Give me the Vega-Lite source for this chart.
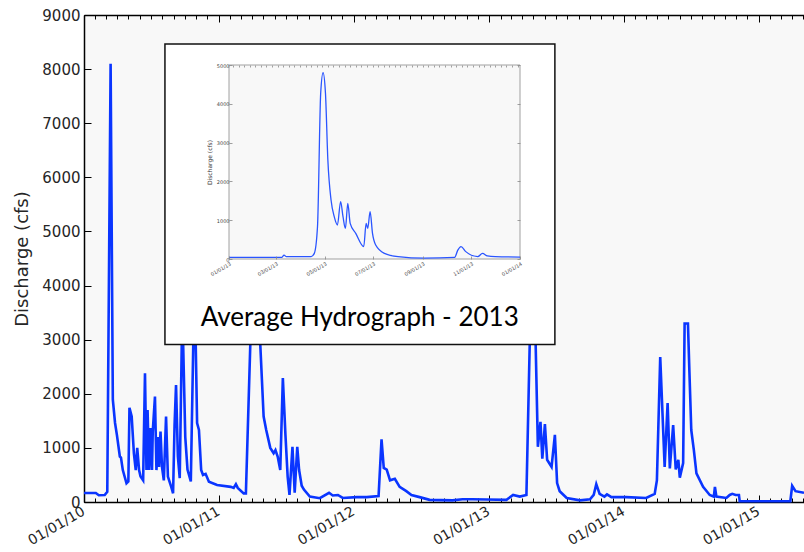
{
  "$schema": "https://vega.github.io/schema/vega-lite/v6.json",
  "autosize": {"type": "none"},
  "padding": {"left": 84, "top": 15, "right": 0, "bottom": 50},
  "width": 720,
  "height": 487,
  "background": "white",
  "config": {"view": {"fill": "#f8f8f8", "stroke": null}},
  "datasets": {
    "main": [
      {"date": "2010/01/01", "q": 165}, {"date": "2010/02/02", "q": 165}, {"date": "2010/02/10", "q": 125}, {"date": "2010/02/26", "q": 130},
      {"date": "2010/03/05", "q": 190}, {"date": "2010/03/14", "q": 8100}, {"date": "2010/03/20", "q": 1890}, {"date": "2010/03/26", "q": 1460},
      {"date": "2010/03/31", "q": 1240}, {"date": "2010/04/08", "q": 840}, {"date": "2010/04/11", "q": 820}, {"date": "2010/04/16", "q": 590},
      {"date": "2010/04/26", "q": 345}, {"date": "2010/05/01", "q": 380}, {"date": "2010/05/04", "q": 1740}, {"date": "2010/05/10", "q": 1580},
      {"date": "2010/05/16", "q": 900}, {"date": "2010/05/21", "q": 590}, {"date": "2010/05/25", "q": 1000}, {"date": "2010/05/30", "q": 590},
      {"date": "2010/06/03", "q": 470}, {"date": "2010/06/10", "q": 400}, {"date": "2010/06/15", "q": 2380}, {"date": "2010/06/19", "q": 590},
      {"date": "2010/06/22", "q": 1700}, {"date": "2010/06/26", "q": 590}, {"date": "2010/06/30", "q": 1365}, {"date": "2010/07/04", "q": 590},
      {"date": "2010/07/06", "q": 1300}, {"date": "2010/07/12", "q": 1950}, {"date": "2010/07/16", "q": 590}, {"date": "2010/07/20", "q": 1200},
      {"date": "2010/07/23", "q": 650}, {"date": "2010/07/27", "q": 1300}, {"date": "2010/07/31", "q": 650}, {"date": "2010/08/05", "q": 400},
      {"date": "2010/08/11", "q": 1580}, {"date": "2010/08/16", "q": 470}, {"date": "2010/08/25", "q": 280}, {"date": "2010/08/30", "q": 160},
      {"date": "2010/09/03", "q": 1420}, {"date": "2010/09/07", "q": 2160}, {"date": "2010/09/12", "q": 840}, {"date": "2010/09/17", "q": 440},
      {"date": "2010/09/24", "q": 3600}, {"date": "2010/10/02", "q": 1200}, {"date": "2010/10/08", "q": 600}, {"date": "2010/10/17", "q": 380},
      {"date": "2010/10/27", "q": 4200}, {"date": "2010/11/03", "q": 1460}, {"date": "2010/11/08", "q": 1330}, {"date": "2010/11/14", "q": 590},
      {"date": "2010/11/19", "q": 500}, {"date": "2010/11/26", "q": 520}, {"date": "2010/12/05", "q": 375}, {"date": "2010/12/27", "q": 315},
      {"date": "2011/02/02", "q": 280}, {"date": "2011/02/10", "q": 260}, {"date": "2011/02/16", "q": 330}, {"date": "2011/02/21", "q": 260},
      {"date": "2011/03/09", "q": 160}, {"date": "2011/03/15", "q": 160}, {"date": "2011/04/05", "q": 5000}, {"date": "2011/04/23", "q": 2900},
      {"date": "2011/05/02", "q": 1580}, {"date": "2011/05/09", "q": 1330}, {"date": "2011/05/20", "q": 1000}, {"date": "2011/05/29", "q": 900},
      {"date": "2011/06/03", "q": 960}, {"date": "2011/06/09", "q": 840}, {"date": "2011/06/16", "q": 590}, {"date": "2011/06/23", "q": 2290},
      {"date": "2011/06/30", "q": 1240}, {"date": "2011/07/06", "q": 470}, {"date": "2011/07/11", "q": 130}, {"date": "2011/07/19", "q": 1020},
      {"date": "2011/07/25", "q": 170}, {"date": "2011/08/01", "q": 1020}, {"date": "2011/08/06", "q": 590}, {"date": "2011/08/13", "q": 300},
      {"date": "2011/08/19", "q": 230}, {"date": "2011/09/04", "q": 100}, {"date": "2011/10/01", "q": 70}, {"date": "2011/10/26", "q": 170},
      {"date": "2011/11/05", "q": 120}, {"date": "2011/11/19", "q": 130}, {"date": "2011/12/02", "q": 75}, {"date": "2012/01/09", "q": 90},
      {"date": "2012/02/05", "q": 90}, {"date": "2012/03/08", "q": 110}, {"date": "2012/03/16", "q": 1160}, {"date": "2012/03/22", "q": 630},
      {"date": "2012/03/30", "q": 600}, {"date": "2012/04/08", "q": 400}, {"date": "2012/04/21", "q": 430}, {"date": "2012/05/04", "q": 280},
      {"date": "2012/05/22", "q": 200}, {"date": "2012/06/05", "q": 130}, {"date": "2012/06/27", "q": 90}, {"date": "2012/07/24", "q": 40},
      {"date": "2012/09/24", "q": 30}, {"date": "2012/10/21", "q": 50}, {"date": "2012/11/17", "q": 50}, {"date": "2012/12/25", "q": 45},
      {"date": "2013/02/17", "q": 40}, {"date": "2013/03/07", "q": 130}, {"date": "2013/03/25", "q": 100}, {"date": "2013/04/12", "q": 130},
      {"date": "2013/04/26", "q": 4500}, {"date": "2013/05/07", "q": 2900}, {"date": "2013/05/13", "q": 1020}, {"date": "2013/05/20", "q": 1480},
      {"date": "2013/05/25", "q": 800}, {"date": "2013/06/01", "q": 1440}, {"date": "2013/06/07", "q": 780}, {"date": "2013/06/19", "q": 650},
      {"date": "2013/06/28", "q": 1240}, {"date": "2013/07/04", "q": 350}, {"date": "2013/07/11", "q": 200}, {"date": "2013/07/30", "q": 75},
      {"date": "2013/09/04", "q": 30}, {"date": "2013/10/01", "q": 50}, {"date": "2013/10/11", "q": 130}, {"date": "2013/10/18", "q": 330},
      {"date": "2013/10/27", "q": 150}, {"date": "2013/11/09", "q": 100}, {"date": "2013/11/16", "q": 140}, {"date": "2013/11/28", "q": 90},
      {"date": "2014/01/07", "q": 90}, {"date": "2014/03/02", "q": 75}, {"date": "2014/03/25", "q": 150}, {"date": "2014/03/31", "q": 400},
      {"date": "2014/04/09", "q": 2680}, {"date": "2014/04/21", "q": 650}, {"date": "2014/04/29", "q": 1830}, {"date": "2014/05/05", "q": 620},
      {"date": "2014/05/14", "q": 1420}, {"date": "2014/05/21", "q": 600}, {"date": "2014/05/28", "q": 780}, {"date": "2014/06/01", "q": 450},
      {"date": "2014/06/10", "q": 720}, {"date": "2014/06/14", "q": 3300}, {"date": "2014/06/23", "q": 3300}, {"date": "2014/06/27", "q": 2400},
      {"date": "2014/07/02", "q": 1330}, {"date": "2014/07/09", "q": 960}, {"date": "2014/07/16", "q": 530}, {"date": "2014/08/03", "q": 280},
      {"date": "2014/08/21", "q": 130}, {"date": "2014/09/01", "q": 100}, {"date": "2014/09/04", "q": 280}, {"date": "2014/09/08", "q": 100},
      {"date": "2014/10/05", "q": 75}, {"date": "2014/10/14", "q": 130}, {"date": "2014/10/21", "q": 150}, {"date": "2014/10/30", "q": 130},
      {"date": "2014/11/08", "q": 130}, {"date": "2014/11/10", "q": 15}, {"date": "2015/03/27", "q": 15}, {"date": "2015/04/01", "q": 300},
      {"date": "2015/04/10", "q": 200}, {"date": "2015/05/03", "q": 170}
    ],
    "inset": [
      {"date": "2013/01/01", "q": 40}, {"date": "2013/03/08", "q": 40}, {"date": "2013/03/11", "q": 100}, {"date": "2013/03/14", "q": 60},
      {"date": "2013/04/14", "q": 60}, {"date": "2013/04/18", "q": 145}, {"date": "2013/04/22", "q": 830}, {"date": "2013/04/26", "q": 4270},
      {"date": "2013/04/29", "q": 4800}, {"date": "2013/05/02", "q": 4270}, {"date": "2013/05/05", "q": 2550}, {"date": "2013/05/09", "q": 1520},
      {"date": "2013/05/13", "q": 1090}, {"date": "2013/05/17", "q": 875}, {"date": "2013/05/21", "q": 1480}, {"date": "2013/05/24", "q": 1090},
      {"date": "2013/05/27", "q": 790}, {"date": "2013/05/30", "q": 1430}, {"date": "2013/06/02", "q": 920}, {"date": "2013/06/09", "q": 660},
      {"date": "2013/06/19", "q": 320}, {"date": "2013/06/22", "q": 920}, {"date": "2013/06/24", "q": 790}, {"date": "2013/06/27", "q": 1220},
      {"date": "2013/06/30", "q": 660}, {"date": "2013/07/04", "q": 360}, {"date": "2013/07/15", "q": 145}, {"date": "2013/08/01", "q": 60},
      {"date": "2013/09/03", "q": 20}, {"date": "2013/10/11", "q": 40}, {"date": "2013/10/15", "q": 230}, {"date": "2013/10/19", "q": 320},
      {"date": "2013/10/25", "q": 190}, {"date": "2013/11/09", "q": 60}, {"date": "2013/11/15", "q": 145}, {"date": "2013/11/21", "q": 80},
      {"date": "2013/12/01", "q": 60}, {"date": "2014/01/01", "q": 50}
    ],
    "box": [{"start": "2010/08/08", "end": "2013/06/28", "lo": 2911, "hi": 8464}],
    "caption": [{"date": "2012/01/17", "q": 3252, "label": "Average Hydrograph - 2013"}],
    "insetbg": [{"start": "2013/01/01", "end": "2014/01/01", "lo": 0, "hi": 5000}]
  },
  "resolve": {"scale": {"x": "independent", "y": "independent"}, "axis": {"x": "independent", "y": "independent"}},
  "layer": [
    {
      "data": {"name": "main"},
      "mark": {"type": "line", "color": "#0a35ff", "strokeWidth": 2.6, "interpolate": "linear"},
      "encoding": {
        "x": {"field": "date", "type": "temporal",
          "scale": {"domain": [{"year": 2010, "month": 1, "date": 1}, {"year": 2015, "month": 5, "date": 3}], "nice": false},
          "axis": {"orient": "bottom", "title": null, "grid": false,
            "values": [{"year": 2010, "month": 1, "date": 1}, {"year": 2011, "month": 1, "date": 1}, {"year": 2012, "month": 1, "date": 1}, {"year": 2013, "month": 1, "date": 1}, {"year": 2014, "month": 1, "date": 1}, {"year": 2015, "month": 1, "date": 1}],
            "format": "%m/%d/%y", "labelAngle": -30, "labelAlign": "right", "labelBaseline": "top",
            "labelFont": "DejaVu Sans", "labelFontSize": 14, "labelColor": "#262626", "labelPadding": 9, "labelOffset": -4,
            "labelOverlap": false, "labelBound": false, "labelFlush": false,
            "tickSize": -7, "tickColor": "#000", "tickWidth": 1,
            "domainColor": "#000", "domainWidth": 1.5}},
        "y": {"field": "q", "type": "quantitative",
          "scale": {"domain": [0, 9000], "nice": false, "zero": false},
          "axis": {"orient": "left", "values": [0, 1000, 2000, 3000, 4000, 5000, 6000, 7000, 8000, 9000], "format": "d", "grid": false,
            "title": "Discharge (cfs)", "titleFont": "DejaVu Sans", "titleFontSize": 18, "titleFontWeight": "normal", "titleColor": "#262626", "titlePadding": 10,
            "labelFont": "DejaVu Sans", "labelFontSize": 15, "labelColor": "#262626", "labelPadding": 11,
            "tickSize": -7, "tickColor": "#000", "tickWidth": 1,
            "domainColor": "#000", "domainWidth": 1.5}}
      }
    },
    {
      "data": {"name": "main"},
      "mark": {"type": "rule", "strokeOpacity": 0},
      "encoding": {
        "x": {"field": "date", "type": "temporal",
          "scale": {"domain": [{"year": 2010, "month": 1, "date": 1}, {"year": 2015, "month": 5, "date": 3}], "nice": false},
          "axis": {"orient": "bottom", "title": null, "grid": false, "labels": false, "domain": false,
            "tickCount": {"interval": "month", "step": 1}, "tickSize": -4, "tickColor": "#000", "tickWidth": 1}}
      }
    },
    {
      "data": {"name": "main"},
      "mark": {"type": "rule", "strokeOpacity": 0},
      "encoding": {
        "x": {"field": "date", "type": "temporal",
          "scale": {"domain": [{"year": 2010, "month": 1, "date": 1}, {"year": 2015, "month": 5, "date": 3}], "nice": false},
          "axis": {"orient": "top", "title": null, "grid": false, "labels": false, "domain": true, "domainColor": "#000", "domainWidth": 1.5,
            "tickCount": {"interval": "month", "step": 1}, "tickSize": -4, "tickColor": "#000", "tickWidth": 1}}
      }
    },
    {
      "data": {"name": "main"},
      "mark": {"type": "rule", "strokeOpacity": 0},
      "encoding": {
        "x": {"field": "date", "type": "temporal",
          "scale": {"domain": [{"year": 2010, "month": 1, "date": 1}, {"year": 2015, "month": 5, "date": 3}], "nice": false},
          "axis": {"orient": "top", "title": null, "grid": false, "labels": false, "domain": false,
            "values": [{"year": 2010, "month": 1, "date": 1}, {"year": 2011, "month": 1, "date": 1}, {"year": 2012, "month": 1, "date": 1}, {"year": 2013, "month": 1, "date": 1}, {"year": 2014, "month": 1, "date": 1}, {"year": 2015, "month": 1, "date": 1}],
            "tickSize": -7, "tickColor": "#000", "tickWidth": 1}}
      }
    },
    {
      "data": {"name": "box"},
      "mark": {"type": "rect", "fill": "white", "stroke": "#111", "strokeWidth": 1.5},
      "encoding": {
        "x": {"field": "start", "type": "temporal", "scale": {"domain": [{"year": 2010, "month": 1, "date": 1}, {"year": 2015, "month": 5, "date": 3}], "nice": false}, "axis": null},
        "x2": {"field": "end"},
        "y": {"field": "lo", "type": "quantitative", "scale": {"domain": [0, 9000], "nice": false, "zero": false}, "axis": null},
        "y2": {"field": "hi"}
      }
    },
    {
      "data": {"name": "caption"},
      "mark": {"type": "text", "font": "Lato", "fontSize": 26, "align": "center", "baseline": "alphabetic", "color": "#000"},
      "encoding": {
        "x": {"field": "date", "type": "temporal", "scale": {"domain": [{"year": 2010, "month": 1, "date": 1}, {"year": 2015, "month": 5, "date": 3}], "nice": false}, "axis": null},
        "y": {"field": "q", "type": "quantitative", "scale": {"domain": [0, 9000], "nice": false, "zero": false}, "axis": null},
        "text": {"field": "label"}
      }
    },
    {
      "data": {"name": "insetbg"},
      "mark": {"type": "rect", "fill": "#f8f8f8", "stroke": "#a0a0a0", "strokeWidth": 1},
      "encoding": {
        "x": {"field": "start", "type": "temporal", "scale": {"domain": [{"year": 2013, "month": 1, "date": 1}, {"year": 2014, "month": 1, "date": 1}], "range": [145, 436], "nice": false}, "axis": null},
        "x2": {"field": "end"},
        "y": {"field": "lo", "type": "quantitative", "scale": {"domain": [0, 5000], "range": [244, 50], "nice": false, "zero": false}, "axis": null},
        "y2": {"field": "hi"}
      }
    },
    {
      "data": {"name": "inset"},
      "mark": {"type": "line", "color": "#2a55ff", "strokeWidth": 1.3, "interpolate": "monotone"},
      "encoding": {
        "x": {"field": "date", "type": "temporal",
          "scale": {"domain": [{"year": 2013, "month": 1, "date": 1}, {"year": 2014, "month": 1, "date": 1}], "range": [145, 436], "nice": false},
          "axis": {"orient": "bottom", "offset": -243, "zindex": 2, "title": null, "grid": false, "domain": false,
            "tickCount": {"interval": "month", "step": 2}, "format": "%m/%d/%y", "labelAngle": -30, "labelAlign": "right", "labelBaseline": "top",
            "labelFont": "DejaVu Sans", "labelFontSize": 5, "labelColor": "#444", "labelPadding": 5,
            "labelOverlap": false, "labelBound": false, "labelFlush": false,
            "tickSize": -3, "tickColor": "#888", "tickWidth": 0.8}},
        "y": {"field": "q", "type": "quantitative",
          "scale": {"domain": [0, 5000], "range": [244, 50], "nice": false, "zero": false},
          "axis": {"orient": "left", "offset": -145, "zindex": 2, "values": [0, 1000, 2000, 3000, 4000, 5000], "format": "d", "grid": false, "domain": false,
            "title": "Discharge (cfs)", "titleFont": "DejaVu Sans", "titleFontSize": 6, "titleFontWeight": "normal", "titleColor": "#333", "titlePadding": 4,
            "labelFont": "DejaVu Sans", "labelFontSize": 5, "labelColor": "#444", "labelPadding": 3,
            "tickSize": -3, "tickColor": "#888", "tickWidth": 0.8}}
      }
    },
    {
      "data": {"name": "inset"},
      "mark": {"type": "point", "opacity": 0},
      "encoding": {
        "x": {"field": "date", "type": "temporal",
          "scale": {"domain": [{"year": 2013, "month": 1, "date": 1}, {"year": 2014, "month": 1, "date": 1}], "range": [145, 436], "nice": false},
          "axis": {"orient": "top", "offset": -50, "zindex": 2, "title": null, "grid": false, "domain": false, "labels": false,
            "tickCount": {"interval": "week", "step": 1}, "tickSize": -2, "tickColor": "#888", "tickWidth": 0.8}},
        "y": {"field": "q", "type": "quantitative",
          "scale": {"domain": [0, 5000], "range": [244, 50], "nice": false, "zero": false},
          "axis": {"orient": "right", "offset": -284, "zindex": 2, "values": [0, 1000, 2000, 3000, 4000, 5000], "grid": false, "domain": false, "labels": false, "title": null,
            "tickSize": -3, "tickColor": "#888", "tickWidth": 0.8}}
      }
    }
  ]
}
